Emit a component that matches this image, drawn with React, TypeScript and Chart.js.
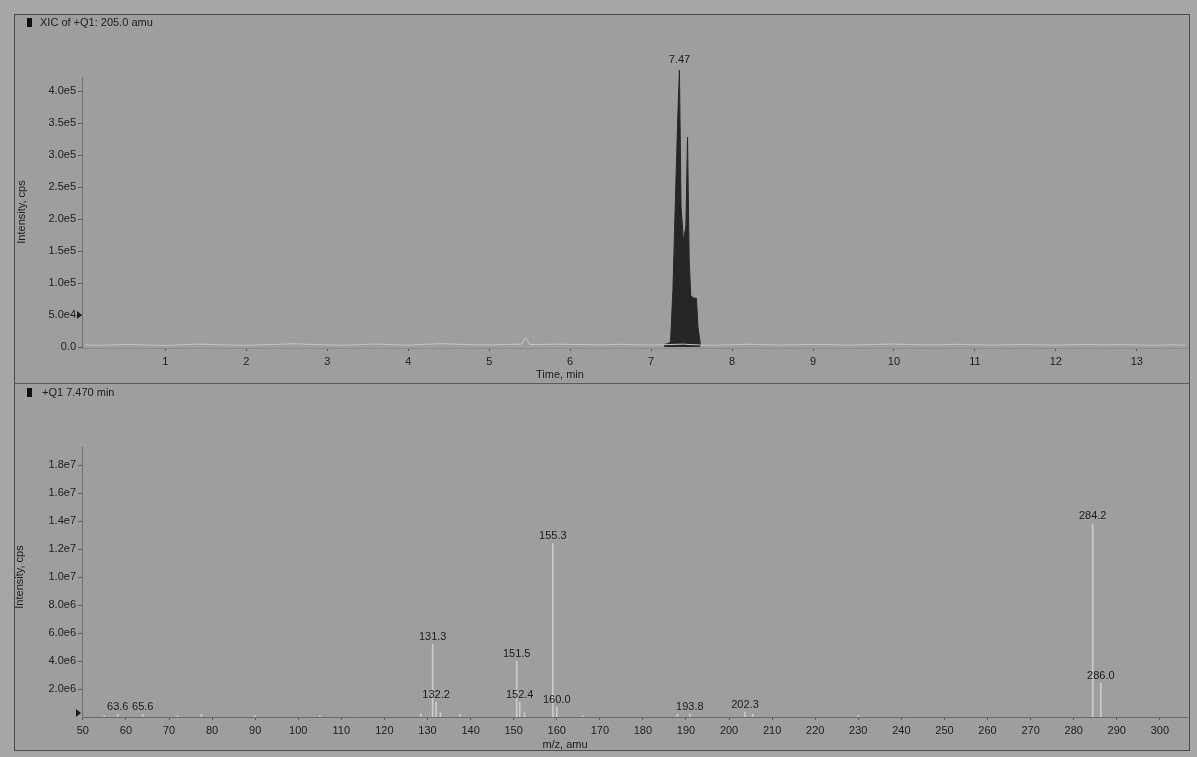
import React, { useEffect, useRef } from "react";
import { Chart, registerables } from "chart.js";
Chart.register(...registerables);

const FONT = "'Liberation Sans', Arial, sans-serif";
const TEXT = "#1c1c1c";

// ---------- top panel: XIC ----------
const xicTitle = "XIC of +Q1: 205.0 amu";
const xicXTitle = "Time, min";
const yTitle = "Intensity, cps";
const xicXTicks = [1, 2, 3, 4, 5, 6, 7, 8, 9, 10, 11, 12, 13];
const xicYTicks = [0, 50000, 100000, 150000, 200000, 250000, 300000, 350000, 400000];
const xicYTickLabels = ["0.0", "5.0e4", "1.0e5", "1.5e5", "2.0e5", "2.5e5", "3.0e5", "3.5e5", "4.0e5"];
const xicTimes = [0.0, 0.2, 0.4, 0.6, 0.8, 1.0, 1.2, 1.4, 1.6, 1.8, 2.0, 2.2, 2.4, 2.6, 2.8, 3.0, 3.2, 3.4, 3.6, 3.8, 4.0, 4.2, 4.4, 4.6, 4.8, 5.0, 5.2, 5.4, 5.45, 5.5, 5.6, 5.8, 6.0, 6.2, 6.4, 6.6, 6.8, 7.0, 7.2, 7.4, 7.6, 7.8, 8.0, 8.2, 8.4, 8.6, 8.8, 9.0, 9.2, 9.4, 9.6, 9.8, 10.0, 10.2, 10.4, 10.6, 10.8, 11.0, 11.2, 11.4, 11.6, 11.8, 12.0, 12.2, 12.4, 12.6, 12.8, 13.0, 13.2, 13.4, 13.6];
const xicNoise = [3200, 2800, 3600, 4100, 3000, 2500, 3400, 4600, 3900, 3100,
  2700, 3500, 4200, 5200, 4000, 3300, 2900, 3800, 4700, 3600,
  3000, 4100, 5300, 4400, 3500, 3200, 4000, 4600, 15000, 4200, 3700, 4500,
  4200, 3800, 3300, 4300, 3500, 3100, 3900, 4500, 3200, 2800,
  3600, 4400, 3700, 3100, 3500, 4200, 3800, 3000, 3400, 4100,
  4700, 3900, 3200, 3700, 4300, 3600, 3000, 3500, 4000, 3400,
  2900, 3600, 4100, 3300, 3800, 3200, 2700, 3400, 3000];
const peakTimes = [7.16, 7.20, 7.24, 7.27, 7.30, 7.33, 7.35, 7.37, 7.40, 7.43, 7.45, 7.47, 7.49, 7.52, 7.56, 7.58, 7.61];
const peakValues = [4000, 5000, 8000, 90000, 230000, 360000, 433000, 220000, 165000, 190000, 328000, 140000, 80000, 77000, 76000, 30000, 3000];
const peakLabel = "7.47";
const peakLabelTime = 7.35;
const peakLabelValue = 433000;

// ---------- bottom panel: spectrum ----------
const specTitle = "+Q1 7.470 min";
const specXTitle = "m/z, amu";
const specXTicks = [50, 60, 70, 80, 90, 100, 110, 120, 130, 140, 150, 160, 170, 180, 190, 200, 210, 220, 230, 240, 250, 260, 270, 280, 290, 300];
const specYTicks = [2e6, 4e6, 6e6, 8e6, 1e7, 1.2e7, 1.4e7, 1.6e7, 1.8e7];
const specYTickLabels = ["2.0e6", "4.0e6", "6.0e6", "8.0e6", "1.0e7", "1.2e7", "1.4e7", "1.6e7", "1.8e7"];
const specMz = [55.0, 58.1, 63.9, 72.0, 77.5, 90.0, 105.0, 128.5, 131.2, 132.0, 133.0, 137.5, 150.7, 151.4, 152.5, 159.1, 160.0, 166.0, 188.0, 190.9, 203.7, 205.5, 230.0, 284.4, 286.3];
const specIntensity = [0.1e6, 0.2e6, 0.2e6, 0.1e6, 0.2e6, 0.1e6, 0.1e6, 0.2e6, 5.2e6, 1.07e6, 0.3e6, 0.2e6, 4.0e6, 1.07e6, 0.3e6, 12.4e6, 0.7e6, 0.1e6, 0.2e6, 0.2e6, 0.35e6, 0.2e6, 0.1e6, 13.8e6, 2.4e6];
const specLabels = ["", "63.6", "65.6", "", "", "", "", "", "131.3", "132.2", "", "", "151.5", "152.4", "", "155.3", "160.0", "", "", "193.8", "202.3", "", "", "284.2", "286.0"];

function drawRotated(ctx: CanvasRenderingContext2D, text: string, x: number, y: number) {
  ctx.save();
  ctx.translate(x, y);
  ctx.rotate(-Math.PI / 2);
  ctx.textAlign = "center";
  ctx.textBaseline = "middle";
  ctx.fillText(text, 0, 0);
  ctx.restore();
}

function marker(ctx: CanvasRenderingContext2D, xr: number, y: number) {
  ctx.beginPath();
  ctx.moveTo(xr - 5, y - 4);
  ctx.lineTo(xr, y);
  ctx.lineTo(xr - 5, y + 4);
  ctx.closePath();
  ctx.fill();
}

const xicPlugin = {
  id: "xicDeco",
  afterDraw(chart: any) {
    const ctx = chart.ctx as CanvasRenderingContext2D;
    const xs = chart.scales.x;
    const ys = chart.scales.y;
    ctx.save();
    ctx.fillStyle = "#111";
    ctx.fillRect(27, 18, 5, 9);
    ctx.fillStyle = TEXT;
    ctx.font = `11px ${FONT}`;
    ctx.textAlign = "left";
    ctx.textBaseline = "middle";
    ctx.fillText(xicTitle, 40, 23);
    drawRotated(ctx, yTitle, 22, 212);
    ctx.textAlign = "center";
    ctx.fillText(xicXTitle, 560, 375);
    ctx.fillText(peakLabel, xs.getPixelForValue(peakLabelTime), ys.getPixelForValue(peakLabelValue) - 10);
    marker(ctx, chart.chartArea.left, ys.getPixelForValue(50000));
    ctx.restore();
  },
};

const specPlugin = {
  id: "specDeco",
  afterDraw(chart: any) {
    const ctx = chart.ctx as CanvasRenderingContext2D;
    const xs = chart.scales.x;
    const ys = chart.scales.y;
    ctx.save();
    ctx.fillStyle = "#111";
    ctx.fillRect(27, 5, 5, 9);
    ctx.fillStyle = TEXT;
    ctx.font = `11px ${FONT}`;
    ctx.textAlign = "left";
    ctx.textBaseline = "middle";
    ctx.fillText(specTitle, 42, 10);
    drawRotated(ctx, yTitle, 20, 194);
    ctx.textAlign = "center";
    ctx.fillText(specXTitle, 565, 362);
    ctx.textBaseline = "bottom";
    specMz.forEach((mz, i) => {
      const lab = specLabels[i];
      if (!lab) return;
      ctx.fillText(lab, xs.getPixelForValue(mz), ys.getPixelForValue(specIntensity[i]) - 2);
    });
    marker(ctx, chart.chartArea.left - 1, ys.getPixelForValue(0) - 4);
    ctx.restore();
  },
};

const tickFont = { family: FONT, size: 11 };

export default function App() {
  const topRef = useRef<HTMLCanvasElement>(null);
  const botRef = useRef<HTMLCanvasElement>(null);

  useEffect(() => {
    const top = new Chart(topRef.current!, {
      type: "line",
      data: {
        datasets: [
          {
            data: xicTimes.map((t, i) => ({ x: t, y: xicNoise[i] })),
            borderColor: "#c4c4c4",
            borderWidth: 1,
            pointRadius: 0,
            tension: 0,
          },
          {
            data: peakTimes.map((t, i) => ({ x: t, y: peakValues[i] })),
            borderColor: "#262626",
            backgroundColor: "#262626",
            borderWidth: 1,
            pointRadius: 0,
            fill: "origin",
            clip: false as any,
          },
        ],
      },
      options: {
        animation: false,
        responsive: false,
        devicePixelRatio: 1,
        layout: { padding: { left: 0, right: 10, top: 77, bottom: 0 } },
        plugins: { legend: { display: false }, tooltip: { enabled: false } },
        scales: {
          x: {
            type: "linear",
            min: -0.03,
            max: 13.62,
            afterBuildTicks: (s: any) => { s.ticks = xicXTicks.map((v) => ({ value: v })); },
            afterFit: (s: any) => { s.height = 35; },
            ticks: { autoSkip: false, maxRotation: 0, color: TEXT, font: tickFont, padding: 4, callback: (v: any) => String(v) },
            grid: { display: true, drawOnChartArea: false, drawTicks: true, tickLength: 3, color: "#5a5a5a" },
            border: { display: true, color: "#8c8c8c" },
          },
          y: {
            type: "linear",
            min: -1500,
            max: 422000,
            afterBuildTicks: (s: any) => { s.ticks = xicYTicks.map((v) => ({ value: v })); },
            afterFit: (s: any) => { s.width = 82; },
            ticks: {
              autoSkip: false, color: TEXT, font: tickFont, padding: 2,
              callback: (v: any) => { const i = xicYTicks.indexOf(v); return i >= 0 ? xicYTickLabels[i] : ""; },
            },
            grid: { display: true, drawOnChartArea: false, drawTicks: true, tickLength: 4, color: "#5a5a5a" },
            border: { display: true, color: "#6e6e6e", dash: [2, 2] },
          },
        },
      },
      plugins: [xicPlugin],
    } as any);

    const bot = new Chart(botRef.current!, {
      type: "bar",
      data: {
        datasets: [
          {
            data: specMz.map((m, i) => ({ x: m, y: specIntensity[i] })),
            backgroundColor: "#cbcbcb",
            borderWidth: 0,
            barThickness: 1,
          },
        ],
      },
      options: {
        animation: false,
        responsive: false,
        devicePixelRatio: 1,
        layout: { padding: { left: 0, right: 10, top: 64, bottom: 0 } },
        plugins: { legend: { display: false }, tooltip: { enabled: false } },
        scales: {
          x: {
            type: "linear",
            offset: false,
            min: 49.8,
            max: 306.3,
            afterBuildTicks: (s: any) => { s.ticks = specXTicks.map((v) => ({ value: v })); },
            afterFit: (s: any) => { s.height = 40; },
            ticks: { autoSkip: false, maxRotation: 0, color: TEXT, font: tickFont, padding: 4, callback: (v: any) => String(v) },
            grid: { display: true, offset: false, drawOnChartArea: false, drawTicks: true, tickLength: 3, color: "#5a5a5a" },
            border: { display: true, color: "#6a6a6a", dash: [3, 2] },
          },
          y: {
            type: "linear",
            min: 0,
            max: 19.3e6,
            afterBuildTicks: (s: any) => { s.ticks = specYTicks.map((v) => ({ value: v })); },
            afterFit: (s: any) => { s.width = 82; },
            ticks: {
              autoSkip: false, color: TEXT, font: tickFont, padding: 2,
              callback: (v: any) => { const i = specYTicks.indexOf(v); return i >= 0 ? specYTickLabels[i] : ""; },
            },
            grid: { display: true, drawOnChartArea: false, drawTicks: true, tickLength: 4, color: "#5a5a5a" },
            border: { display: true, color: "#6e6e6e", dash: [2, 2] },
          },
        },
      },
      plugins: [specPlugin],
    } as any);

    return () => { top.destroy(); bot.destroy(); };
  }, []);

  return (
    <div style={{ position: "fixed", left: 0, top: 0, width: 1197, height: 757, background: "#a6a6a6", overflow: "hidden" }}>
      <div style={{ position: "absolute", left: 14, top: 14, width: 1176, height: 737, background: "#9e9e9e" }} />
      <canvas ref={topRef} width={1197} height={383} style={{ position: "absolute", left: 0, top: 0, width: 1197, height: 383 }} />
      <canvas ref={botRef} width={1197} height={374} style={{ position: "absolute", left: 0, top: 383, width: 1197, height: 374 }} />
      <div style={{ position: "absolute", left: 14, top: 14, width: 1174, height: 735, border: "1px solid #4c4c4c", pointerEvents: "none" }} />
      <div style={{ position: "absolute", left: 14, top: 383, width: 1176, height: 1, background: "#5a5a5a", pointerEvents: "none" }} />
    </div>
  );
}
